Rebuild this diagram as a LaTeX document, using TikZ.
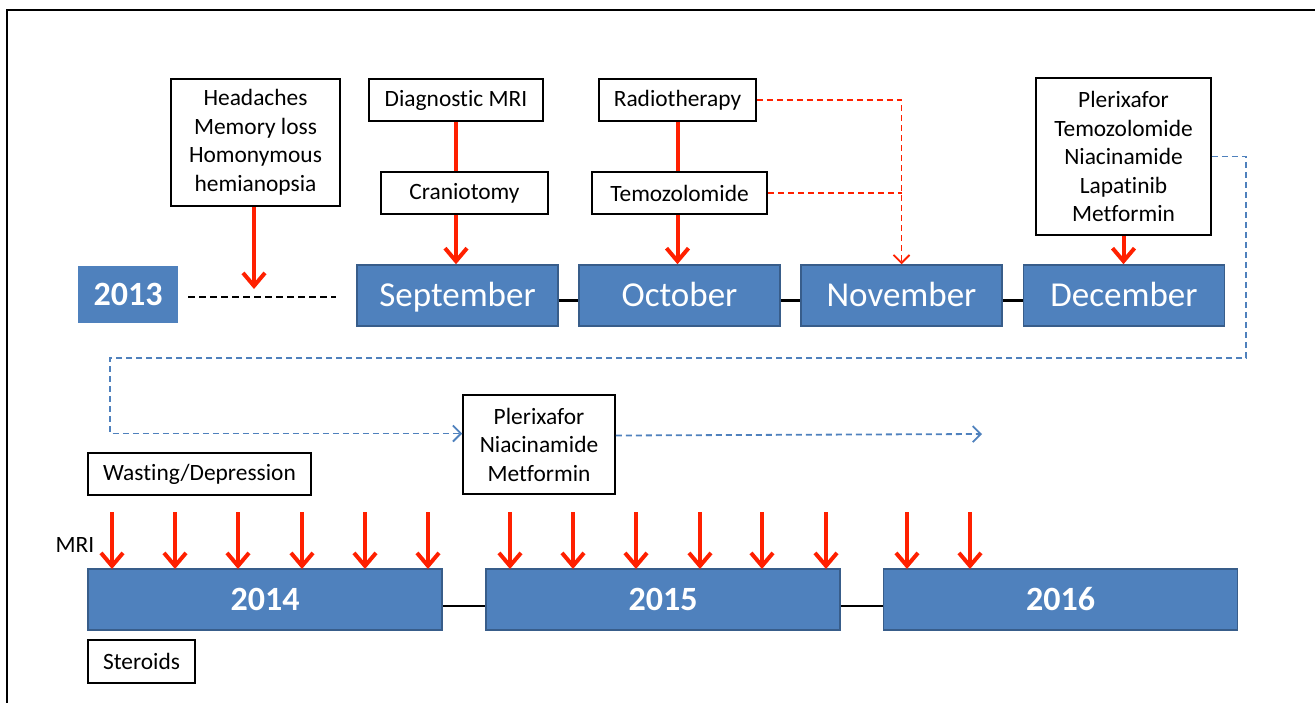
\documentclass[tikz,border=0pt]{standalone}
\usepackage{fontspec}
\setmainfont{Carlito}[Ligatures=NoCommon]
\usetikzlibrary{arrows.meta}

\definecolor{boxblue}{RGB}{79,129,189}
\definecolor{edgeblue}{RGB}{56,93,138}
\definecolor{arrred}{RGB}{255,32,0}

\begin{document}
\begin{tikzpicture}[
    x=1pt, y=-1pt,
    lbl/.style={draw=black, line width=1.5pt, fill=white, align=center, inner sep=0pt,
                font=\fontsize{23.4}{28.5}\selectfont},
    month/.style={draw=edgeblue, line width=1.5pt, fill=boxblue, text=white, inner sep=0pt,
                  minimum width=201pt, minimum height=61pt, text height=28pt, text depth=6pt,
                  font=\fontsize{35}{40}\selectfont},
    yr/.style={month, minimum width=354pt, font=\fontsize{34}{40}\selectfont\bfseries},
    tie/.style={draw=arrred, line width=4pt},
    hit/.style={tie, -{Straight Barb[length=13pt,width=22pt]}},
    hint/.style={draw=arrred, line width=1.8pt, dash pattern=on 6pt off 4pt,
                 -{Straight Barb[length=8pt,width=16pt]}},
    carry/.style={hint, draw=boxblue},
    link/.style={line width=2.5pt},
  ]
    \useasboundingbox (0,0) rectangle (1315,702);
    \draw[line width=2pt] (7,760) -- (7,10) -- (1380,10);

    % 2013
    \node[fill=boxblue, text=white, minimum width=100pt, minimum height=57pt, inner sep=0pt,
          font=\fontsize{34}{40}\selectfont\bfseries] (y2013) at (128,294.5) {2013};
    \node[month] (sep) at (457.5,295.5) {September};
    \node[month] (oct) at (679.5,295.5) {October};
    \node[month] (nov) at (901.5,295.5) {November};
    \node[month] (dec) at (1124,295.5) {December};

    \draw[link, line width=2.8pt, dash pattern=on 7pt off 4pt] ([xshift=10pt,yshift=-2.5pt]y2013.east) -- ([xshift=-20pt,yshift=-1.5pt]sep.west);
    \foreach \a/\b in {sep/oct, oct/nov, nov/dec} \draw[link] ([yshift=-5pt]\a.east) -- ([yshift=-5pt]\b.west);

    \node[lbl, minimum width=169pt, minimum height=127pt] (sym) at (255.5,142.5)
      {Headaches\\Memory loss\\Homonymous\\hemianopsia};
    \coordinate (onset) at (254,289);
    \draw[hit] (sym.south -| onset) -- (onset);

    \node[lbl, minimum width=174pt, minimum height=42pt] (dmri) at (456,100) {Diagnostic MRI};
    \node[lbl, minimum width=167pt, minimum height=42pt] (cran) at (464.5,193) {Craniotomy};
    \draw[tie] (dmri.south) -- (dmri.south |- cran.north);
    \draw[hit] (cran.south -| dmri.south) -- (sep.north -| dmri.south);

    \node[lbl, minimum width=157pt, minimum height=42pt] (radio) at (677.5,100) {Radiotherapy};
    \node[lbl, minimum width=175pt, minimum height=42pt] (temo) at (679.5,193) {Temozolomide};
    \draw[tie] (radio.south) -- (radio.south |- temo.north);
    \draw[hit] (temo.south -| radio.south) -- (oct.north -| radio.south);
    \draw[hint] (radio.east) -| (nov.north);
    \draw[hint, -] (temo.east) -- (temo.east -| nov.north);

    \node[lbl, minimum width=175pt, minimum height=157pt] (drugs) at (1123.5,156.5)
      {Plerixafor\\Temozolomide\\Niacinamide\\Lapatinib\\Metformin};
    \draw[hit] (drugs.south) -- (drugs.south |- dec.north);

    % 2014 - 2016
    \node[lbl, minimum width=152pt, minimum height=99pt] (plx) at (539,444.5)
      {Plerixafor\\Niacinamide\\Metformin};
    \coordinate (wrapR) at (1246,358);
    \coordinate (wrapL) at (110,433.5);
    \draw[carry] (drugs.east) -| (wrapR) -| (wrapL) -- ([yshift=11pt]plx.west);
    \coordinate (later) at (982,434);
    \draw[carry] ([yshift=9pt]plx.east) -- (later);

    \node[lbl, minimum width=223pt, minimum height=42pt] (waste) at (199.5,474) {Wasting/Depression};
    \node[lbl, minimum width=107pt, minimum height=43pt] (ster) at (141.5,661.5) {Steroids};
    \node[font=\fontsize{23.4}{27}\selectfont, inner sep=0pt] (mri) at (75,545) {MRI};

    \node[yr] (y2014) at (265,599.5) {2014};
    \node[yr] (y2015) at (663,599.5) {2015};
    \node[yr] (y2016) at (1060.5,599.5) {2016};
    \foreach \a/\b in {y2014/y2015, y2015/y2016} \draw[link] ([yshift=-6.5pt]\a.east) -- ([yshift=-6.5pt]\b.west);

    \foreach \x in {112,175,238,302,365,428,510,573,636,700,762,826,907,970}
      \draw[hit] (\x,512) -- (\x,569);
  \end{tikzpicture}
\end{document}
